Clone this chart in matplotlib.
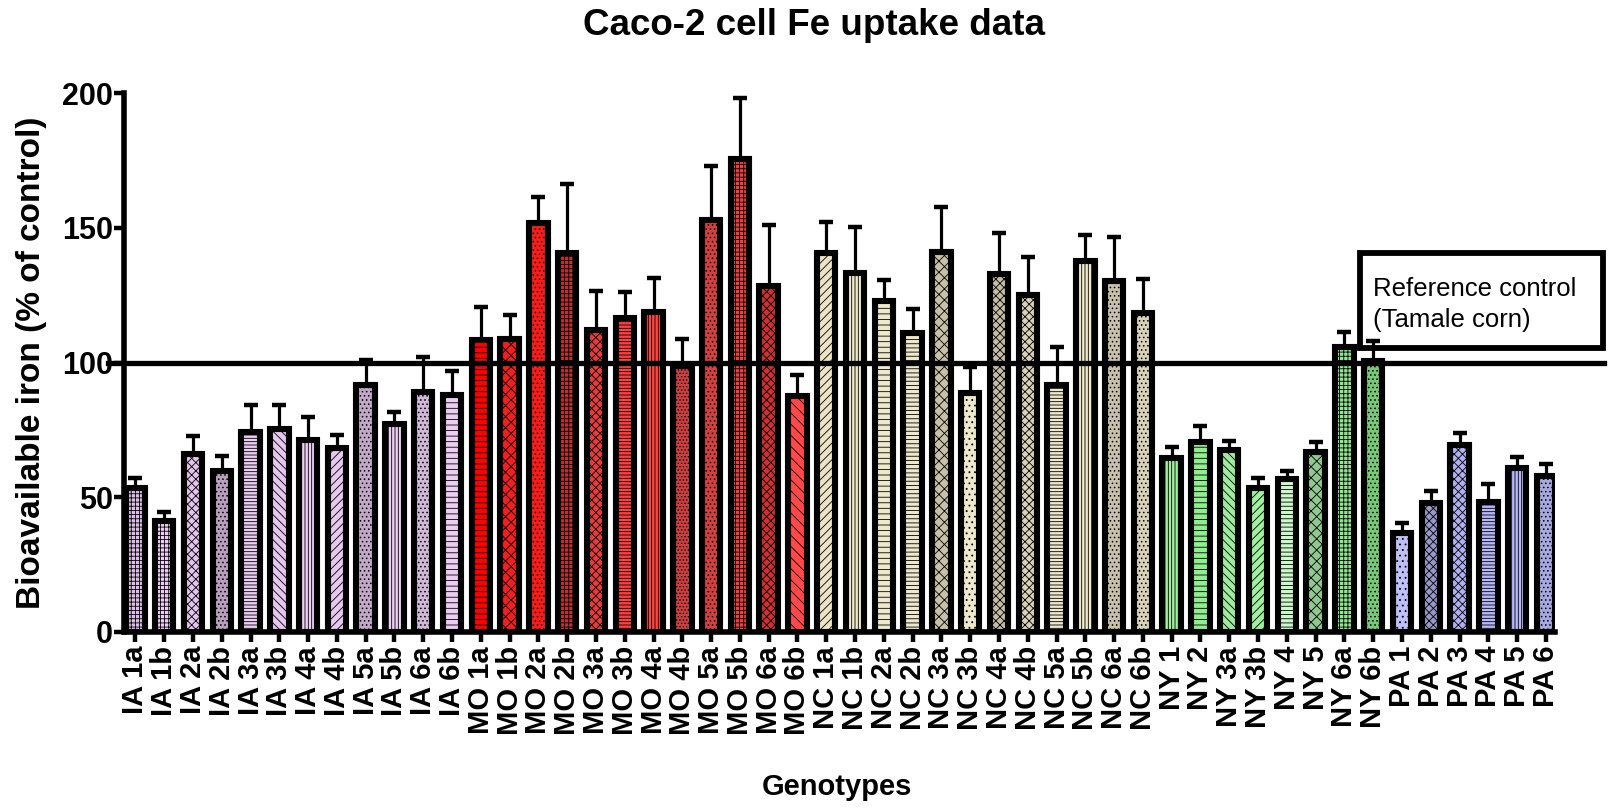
import matplotlib.pyplot as plt
from matplotlib.patches import Rectangle

plt.rcParams['font.family'] = ['Liberation Sans', 'DejaVu Sans']
plt.rcParams['hatch.linewidth'] = 0.6

# Data
genotypes = ['IA 1a', 'IA 1b', 'IA 2a', 'IA 2b', 'IA 3a', 'IA 3b', 'IA 4a', 'IA 4b',
             'IA 5a', 'IA 5b', 'IA 6a', 'IA 6b',
             'MO 1a', 'MO 1b', 'MO 2a', 'MO 2b', 'MO 3a', 'MO 3b', 'MO 4a', 'MO 4b',
             'MO 5a', 'MO 5b', 'MO 6a', 'MO 6b',
             'NC 1a', 'NC 1b', 'NC 2a', 'NC 2b', 'NC 3a', 'NC 3b', 'NC 4a', 'NC 4b',
             'NC 5a', 'NC 5b', 'NC 6a', 'NC 6b',
             'NY 1', 'NY 2', 'NY 3a', 'NY 3b', 'NY 4', 'NY 5', 'NY 6a', 'NY 6b',
             'PA 1', 'PA 2', 'PA 3', 'PA 4', 'PA 5', 'PA 6']
iron = [53.6, 41.1, 66.0, 59.9, 74.2, 75.4, 71.1, 68.2, 91.8, 77.2, 89.0, 88.1,
        108.3, 108.7, 151.7, 140.5, 111.9, 116.6, 118.9, 98.7, 153.0, 175.5, 128.5, 87.4,
        140.7, 133.1, 122.8, 110.9, 141.1, 88.7, 132.8, 124.9, 91.8, 137.6, 130.1, 118.3,
        64.7, 70.6, 67.5, 53.3, 56.6, 66.9, 105.7, 100.4,
        36.6, 47.7, 69.4, 48.3, 61.0, 58.0]
sem = [3.6, 3.5, 6.8, 5.3, 9.9, 9.0, 8.6, 4.9, 9.1, 4.5, 12.9, 8.9,
       12.2, 8.9, 9.9, 25.7, 14.8, 9.6, 12.5, 10.2, 20.1, 22.8, 22.4, 8.0,
       11.5, 17.2, 7.8, 8.8, 16.6, 9.8, 15.4, 14.3, 13.8, 9.8, 16.4, 12.7,
       3.8, 5.9, 3.5, 3.7, 3.3, 3.5, 5.8, 7.6,
       3.7, 4.6, 4.3, 6.5, 4.1, 4.2]
reference = 100

# bar fills and patterns
colors = ['#dcbde6', '#eccdf4', '#e4c4ee', '#b8a0bc', '#eccdf4', '#e4c6ee', '#eccdf4', '#e8c8f0',
          '#c0a8c6', '#eccdf4', '#d0b8d8', '#eccdf4',
          '#ff0000', '#f02020', '#ff1a1a', '#c03030', '#e83c3c', '#ff4040', '#ff4444', '#d04040',
          '#d44040', '#f04040', '#d03030', '#ff4848',
          '#ece4c4', '#eee8cc', '#eee8cc', '#eee8cc', '#c8c0a8', '#eee8cc', '#c4bca4', '#d8d0b8',
          '#eee8cc', '#eee8cc', '#c8c0aa', '#d8d2ba',
          '#a0f0a0', '#90ee90', '#a0eaa0', '#a0f0a0', '#ccf8cc', '#90c890', '#90e890', '#78c878',
          '#c0c0f8', '#9898c8', '#b0b0f0', '#b8b8f8', '#b8b8f8', '#a8a8e0']
hatches = ['++++', '++++', 'xxxx', '....', '-----', '\\\\\\\\', '|||||', '////',
           '....', '|||||', '....', '---',
           '---', 'xxx', '....', '++++', 'xxxx', '-----', '|||||', '.....',
           '....', '++++', 'xxxx', '\\\\\\',
           '////', '|||||', '---', '----', 'xxx', '...', 'xxxx', 'xxxx',
           '-----', '|||||', '....', '....',
           '|||||', '---', '\\\\\\\\', '////', '----', 'xxx', '++++', '....',
           '...', 'xxxx', 'xxxx', '-----', '|||||', '....']

x = list(range(len(genotypes)))

fig = plt.figure(figsize=(16.09, 8.09), dpi=100)
ax = fig.add_axes([0.077, 0.2188, 0.8895, 0.6662])

ax.bar(x, iron, width=0.64, color=colors, edgecolor='black', linewidth=4.4,
       hatch=hatches, zorder=3)
ax.errorbar(x, iron, yerr=[[0] * len(sem), sem], fmt='none', ecolor='black',
            elinewidth=2.3, capsize=4.8, capthick=3.2, zorder=2)

# reference control line
ax.plot([-0.011, 1.034], [reference, reference], color='black', lw=3.8,
        transform=ax.get_yaxis_transform(), clip_on=False, zorder=5)

ax.set_xlim(-0.4, len(genotypes) - 0.68)
ax.set_ylim(0, 200)
ax.set_yticks([0, 50, 100, 150, 200])
ax.set_xticks(x)
ax.set_xticklabels(genotypes, rotation=90, fontsize=21, fontweight='bold')
for lab in ax.get_yticklabels():
    lab.set_fontsize(22)
    lab.set_fontweight('bold')

ax.spines['top'].set_visible(False)
ax.spines['right'].set_visible(False)
ax.spines['left'].set_linewidth(4)
ax.spines['bottom'].set_linewidth(4)
ax.tick_params(axis='y', length=7, width=3.2, pad=1)
ax.tick_params(axis='x', length=7, width=3.2, pad=3)

fig.text(0.506, 0.968, 'Caco-2 cell Fe uptake data', ha='center', va='center',
         fontsize=26.5, fontweight='bold')
fig.text(0.0193, 0.551, 'Bioavailable iron (% of control)', rotation=90,
         ha='center', va='center', fontsize=24, fontweight='bold')
fig.text(0.520, 0.027, 'Genotypes', ha='center', va='center',
         fontsize=21, fontweight='bold')

# annotation box
fig.patches.append(Rectangle((0.8452, 0.5698), 0.151, 0.1174, transform=fig.transFigure,
                             fill=False, edgecolor='black', linewidth=4.2))
fig.text(0.8533, 0.6236, 'Reference control\n(Tamale corn)', ha='left', va='center',
         fontsize=18.5, linespacing=1.4)

fig.savefig('out.png', dpi=100)
